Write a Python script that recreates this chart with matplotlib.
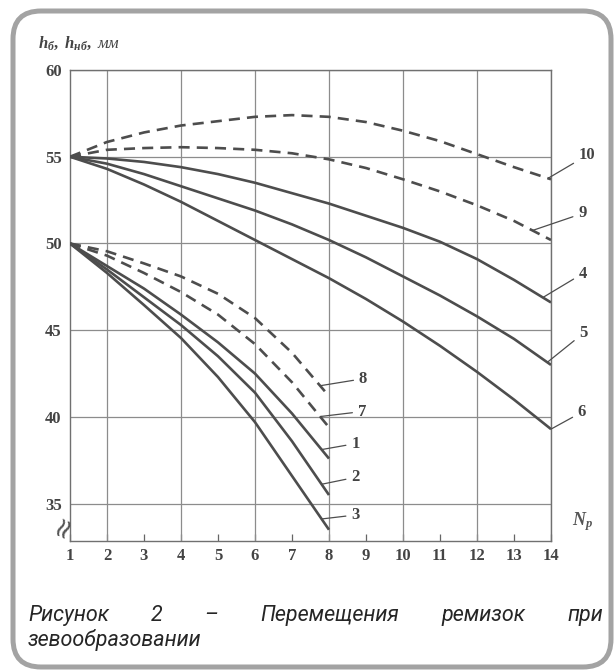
import numpy as np
import matplotlib
matplotlib.use("Agg")
import matplotlib.pyplot as plt
from matplotlib.patches import FancyBboxPatch
from matplotlib.transforms import IdentityTransform

# Fonts: serif for the scanned chart, sans italic for the caption
plt.rcParams["mathtext.fontset"] = "custom"
plt.rcParams["mathtext.it"] = "Liberation Serif:italic:bold"
plt.rcParams["mathtext.rm"] = "Liberation Serif:bold"

# Number of shafts N_p
x_upper = [1, 2, 3, 4, 5, 6, 7, 8, 9, 10, 11, 12, 13, 14]
x_lower = [1, 2, 3, 4, 5, 6, 7, 8]

# Upper group, heights in mm (start at 55)
curve_10 = [55.0, 55.85, 56.4, 56.8, 57.05, 57.3, 57.4, 57.3, 57.0, 56.5, 55.9, 55.15, 54.4, 53.7]
curve_9 = [55.0, 55.4, 55.5, 55.55, 55.5, 55.4, 55.2, 54.85, 54.35, 53.7, 53.0, 52.2, 51.3, 50.2]
curve_4 = [55.0, 54.9, 54.7, 54.4, 54.0, 53.5, 52.9, 52.3, 51.6, 50.9, 50.1, 49.1, 47.9, 46.6]
curve_5 = [55.0, 54.6, 54.0, 53.3, 52.6, 51.9, 51.1, 50.2, 49.2, 48.1, 47.0, 45.8, 44.5, 43.0]
curve_6 = [55.0, 54.3, 53.4, 52.4, 51.3, 50.2, 49.1, 48.0, 46.8, 45.5, 44.1, 42.6, 41.0, 39.3]

# Lower group, heights in mm (start at 50)
curve_8 = [50.0, 49.55, 48.85, 48.1, 47.1, 45.7, 43.7, 41.2]
curve_7 = [50.0, 49.3, 48.3, 47.2, 45.9, 44.2, 42.0, 39.4]
curve_1 = [50.0, 48.7, 47.4, 45.9, 44.3, 42.5, 40.2, 37.6]
curve_2 = [50.0, 48.5, 46.9, 45.3, 43.5, 41.4, 38.6, 35.5]
curve_3 = [50.0, 48.3, 46.45, 44.55, 42.3, 39.7, 36.6, 33.5]

x_tick_labels = [str(n) for n in range(1, 15)]
y_ticks = [35, 40, 45, 50, 55, 60]

caption_line1 = ["Рисунок", "2", "–", "Перемещения", "ремизок", "при"]
caption_line2 = "зевообразовании"

LINE_COLOR = "#4d4d4d"
GRID_COLOR = "#8c8c8c"
TEXT_COLOR = "#444444"

fig = plt.figure(figsize=(6.14, 6.7), dpi=100)
ax = fig.add_axes([70 / 614, 1 - 541 / 670, 481 / 614, 471 / 670])

# (label, x, y, dashed, x where leader touches, text offset in pixels)
series = [
    ("10", x_upper, curve_10, True, 13.92, (39, 23)),
    ("9", x_upper, curve_9, True, 13.5, (50, 17)),
    ("4", x_upper, curve_4, False, 13.78, (40, 24)),
    ("5", x_upper, curve_5, False, 13.9, (36, 29)),
    ("6", x_upper, curve_6, False, 14.0, (31, 17)),
    ("8", x_lower, curve_8, True, 7.76, (43, 7)),
    ("7", x_lower, curve_7, True, 7.76, (42, 5)),
    ("1", x_lower, curve_1, False, 7.8, (34, 6)),
    ("2", x_lower, curve_2, False, 7.8, (34, 7)),
    ("3", x_lower, curve_3, False, 7.8, (34, 4)),
]

for label, xs, ys, dashed, x_touch, offset in series:
    line, = ax.plot(xs, ys, color=LINE_COLOR, lw=1.9, solid_capstyle="butt", zorder=3)
    if dashed:
        line.set_dashes((4.2, 2.7))
    y_touch = np.interp(x_touch, xs, ys)
    ax.annotate(label, xy=(x_touch, y_touch), xytext=offset, textcoords="offset pixels",
                ha="center", va="center", fontsize=12, fontweight="bold",
                family="Liberation Serif", color=TEXT_COLOR, annotation_clip=False,
                arrowprops=dict(arrowstyle="-", color=LINE_COLOR, lw=0.9,
                                shrinkA=2, shrinkB=0))

# Axes limits and grid (vertical grid only on even N_p)
ax.set_xlim(1, 14)
ax.set_ylim(32.85, 60)
ax.xaxis.remove_overlapping_locs = False
ax.set_xticks(range(1, 15))
ax.set_xticklabels(x_tick_labels)
ax.set_xticks(range(2, 15, 2), minor=True)
ax.set_yticks(y_ticks)
ax.grid(True, which="minor", axis="x", color=GRID_COLOR, lw=0.9)
ax.grid(True, which="major", axis="y", color=GRID_COLOR, lw=0.9)
ax.tick_params(axis="x", which="major", direction="in", length=5, width=0.9,
               color="#666666", pad=5, labelsize=12, labelcolor=TEXT_COLOR)
ax.tick_params(axis="x", which="minor", length=0)
ax.tick_params(axis="y", length=0, pad=6, labelsize=12, labelcolor=TEXT_COLOR)
for lab in ax.get_xticklabels() + ax.get_yticklabels():
    lab.set_family("Liberation Serif")
    lab.set_fontweight("bold")
for side in ["left", "right", "top", "bottom"]:
    ax.spines[side].set_color("#707070")
    ax.spines[side].set_linewidth(1.0)

# Axis break symbol and axis names
ax.text(0.8, 33.7, "≈", rotation=65, fontsize=20, color="#555555",
        ha="center", va="center", clip_on=False)
ax.text(14.86, 33.95, r"$N_p$", fontsize=13, color="#555555",
        ha="center", va="center", clip_on=False)
fig.text(38 / 614, 1 - 43 / 670, r"$h_б,\ h_{нб},$ мм", fontsize=12,
         family="Liberation Serif", style="italic", color="#444444",
         ha="left", va="center")

# Justified caption
cap_kw = dict(family="Roboto", style="italic", fontsize=15.5, color="#262626", va="baseline")
renderer = fig.canvas.get_renderer()
words = [fig.text(0, 1 - 621 / 670, w, **cap_kw) for w in caption_line1]
widths = [t.get_window_extent(renderer).width for t in words]
left_px, right_px = 28, 603
gap = (right_px - left_px - sum(widths)) / (len(words) - 1)
pos = left_px
for t, w in zip(words, widths):
    t.set_x(pos / 614)
    pos += w + gap
fig.text(left_px / 614, 1 - 646 / 670, caption_line2, **cap_kw)

# Rounded grey frame around the figure
frame = FancyBboxPatch((13, 3), 598, 656, boxstyle="round,pad=0,rounding_size=28",
                       transform=IdentityTransform(), fill=False,
                       edgecolor="#a3a3a3", lw=3.6)
fig.add_artist(frame)

fig.savefig("out.png", dpi=100)
